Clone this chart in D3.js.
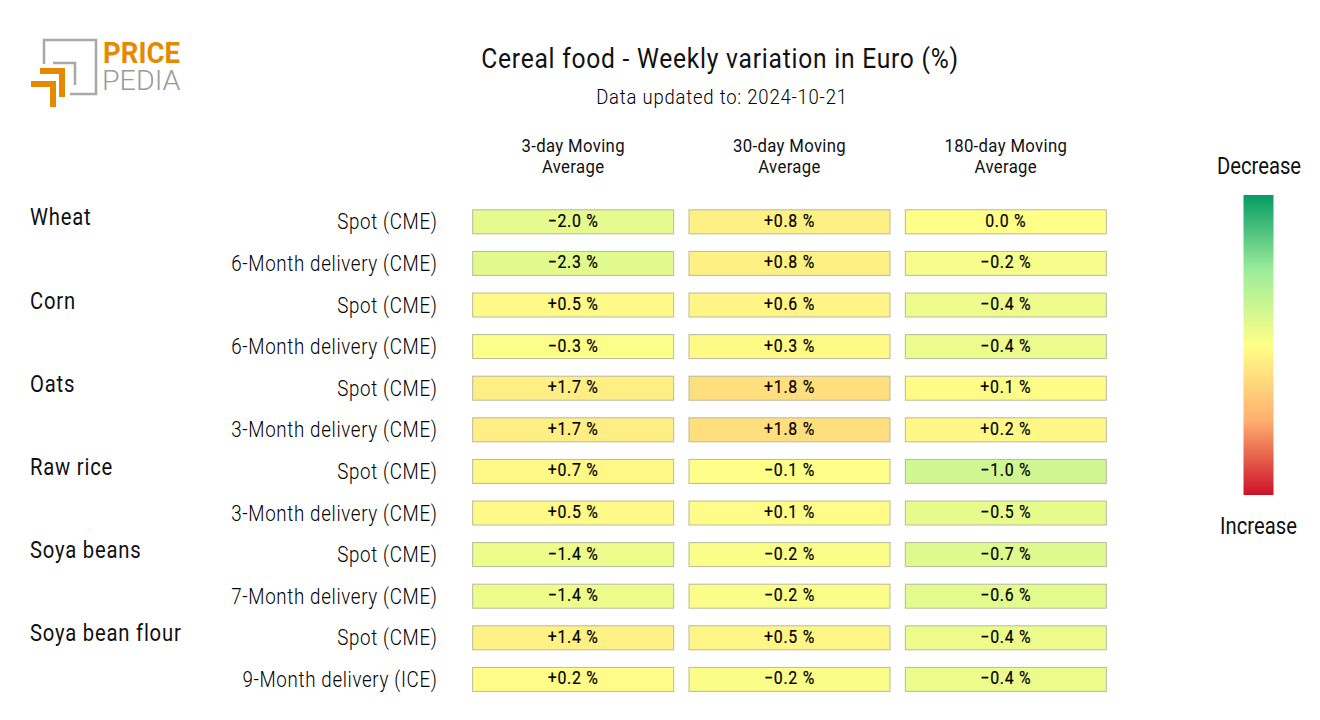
<!DOCTYPE html>
<html lang="en">
  <head>
    <meta charset="UTF-8" />
    <title>Cereal food - Weekly variation in Euro (%)</title>
    <script src="https://d3js.org/d3.v7.min.js"></script>
    <style>
      html, body { margin: 0; padding: 0; background: #fff; }
      text { font-family: Roboto, sans-serif; fill: #111; }
    </style>
  </head>
  <body>
    <svg width="1320" height="720"></svg>

    <script>
      const groups = ["Wheat", "Corn", "Oats", "Raw rice", "Soya beans", "Soya bean flour"];
      const rowLabels = [
        "Spot (CME)", "6-Month delivery (CME)",
        "Spot (CME)", "6-Month delivery (CME)",
        "Spot (CME)", "3-Month delivery (CME)",
        "Spot (CME)", "3-Month delivery (CME)",
        "Spot (CME)", "7-Month delivery (CME)",
        "Spot (CME)", "9-Month delivery (ICE)"
      ];
      const columns = [["3-day Moving", "Average"], ["30-day Moving", "Average"], ["180-day Moving", "Average"]];
      const ma3 = [-2.0, -2.3, 0.5, -0.3, 1.7, 1.7, 0.7, 0.5, -1.4, -1.4, 1.4, 0.2];
      const ma30 = [0.8, 0.8, 0.6, 0.3, 1.8, 1.8, -0.1, 0.1, -0.2, -0.2, 0.5, -0.2];
      const ma180 = [0.0, -0.2, -0.4, -0.4, 0.1, 0.2, -1.0, -0.5, -0.7, -0.6, -0.4, -0.4];
      const series = [ma3, ma30, ma180];
      // each column has its own colour range
      const columnRange = [16, 8.6, 4.25];

      const gradientStops = ["#cc1128", "#ffb070", "#ffff88", "#9bec9b", "#059c63"];

      const svg = d3.select("svg");

      // squeezed and spaced text, the original is narrow with wide gaps
      function label(x, y, str, size, anchor, spacing, sx) {
        return svg
          .append("text")
          .attr("transform", `translate(${x},${y}) scale(${sx || 0.88},1)`)
          .attr("font-size", size)
          .attr("letter-spacing", spacing || 0)
          .attr("text-anchor", anchor || "middle")
          .text(str);
      }

      label(720, 68, "Cereal food - Weekly variation in Euro (%)", 28, "middle", 0.85);
      label(722, 104, "Data updated to: 2024-10-21", 21, "middle", 0.9).attr("font-weight", 300).style("fill", "#000");

      const rowScale = d3.scaleBand().domain(d3.range(rowLabels.length)).range([201.5, 700.7]);
      const colScale = d3.scaleBand().domain(d3.range(columns.length)).range([465, 1114]);
      const cellH = 25;
      const cellW = 202;

      const color = d3.scaleLinear().domain([1, 0.5, 0, -0.5, -1]).range(gradientStops);

      columns.forEach((lines, c) => {
        const cx = colScale(c) + colScale.bandwidth() / 2;
        lines.forEach((line, i) => label(cx, 152 + i * 21, line, 19, "middle", 0.4));

        series[c].forEach((v, r) => {
          const cy = rowScale(r) + rowScale.bandwidth() / 2;
          svg
            .append("rect")
            .attr("x", cx - cellW / 2 + 0.5)
            .attr("y", cy - cellH / 2)
            .attr("width", cellW - 1)
            .attr("height", cellH - 1)
            .attr("fill", color(v / columnRange[c]))
            .attr("stroke", "#b9b9a0");
          const txt = v === 0 ? "0.0 %" : (v > 0 ? "+" : "\u2212") + Math.abs(v).toFixed(1) + " %";
          label(cx, cy + 4.5, txt, 18, "middle", 0.85).style("fill", "#000").attr("stroke", "#000").attr("stroke-width", 0.2);
        });
      });

      rowLabels.forEach((d, r) => {
        const cy = rowScale(r) + rowScale.bandwidth() / 2;
        label(437.5, cy + 7, d, 21.3, "end", 0.75).attr("font-weight", 300).style("fill", "#000");
      });
      groups.forEach((d, i) => {
        const cy = rowScale(i * 2) + rowScale.bandwidth() / 2;
        label(30, cy + 3, d, 23, "start", 0.9);
      });

      // colour bar
      const defs = svg.append("defs");
      const grad = defs
        .append("linearGradient")
        .attr("id", "bar")
        .attr("x1", 0).attr("x2", 0).attr("y1", 1).attr("y2", 0);
      gradientStops.forEach((s, i) => {
        grad.append("stop").attr("offset", i / (gradientStops.length - 1)).attr("stop-color", s);
      });
      svg.append("rect").attr("x", 1243.5).attr("y", 195).attr("width", 30).attr("height", 300).attr("fill", "url(#bar)");
      label(1259, 174, "Decrease", 23, "middle", 0);
      label(1258.5, 534, "Increase", 23, "middle", 0);

      // logo
      const logo = svg.append("g");
      logo.append("path").attr("d", "M44 64V40H96V94H70").attr("fill", "none").attr("stroke", "#a8a8a8").attr("stroke-width", 2.5);
      logo.append("path").attr("d", "M53 63H75V85").attr("fill", "none").attr("stroke", "#a8a8a8").attr("stroke-width", 2.5);
      logo.append("path").attr("d", "M40 71H62V97").attr("fill", "none").attr("stroke", "#e58a00").attr("stroke-width", 6);
      logo.append("path").attr("d", "M31 84H53V107").attr("fill", "none").attr("stroke", "#e58a00").attr("stroke-width", 6);
      label(103, 63, "PRICE", 29, "start", 0, 0.95).attr("font-weight", 700).style("fill", "#e58a00");
      label(102, 90, "PEDIA", 27, "start", 0, 1.06).attr("font-weight", 300).style("fill", "#999");
    </script>
  </body>
</html>
